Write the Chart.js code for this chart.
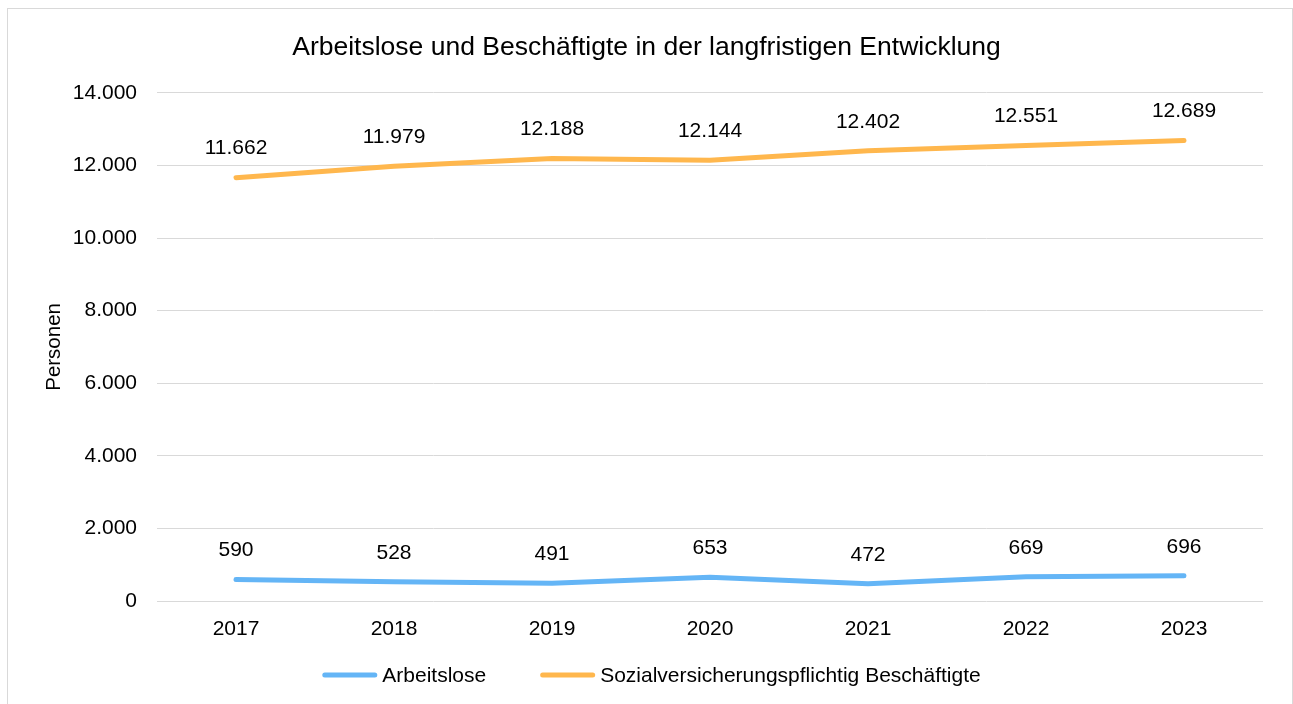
<!DOCTYPE html>
<html>
<head>
<meta charset="utf-8">
<script src="https://cdn.jsdelivr.net/npm/chart.js@4.4.0/dist/chart.umd.min.js"></script>
<style>
  body { margin: 0; background: #fff; overflow: hidden; }
  #frame { position: absolute; left: 7px; top: 8px; width: 1284px; height: 720px; border: 1px solid #d9d9d9; }
  #myChart { position: absolute; left: 0; top: 0; }
</style>
</head>
<body>
<div id="frame"></div>
<canvas id="myChart" width="1293" height="704"></canvas>
<script>
var years = ["2017", "2018", "2019", "2020", "2021", "2022", "2023"];
var arbeitslose = [590, 528, 491, 653, 472, 669, 696];
var beschaeftigte = [11662, 11979, 12188, 12144, 12402, 12551, 12689];
var yTicks = [0, 2000, 4000, 6000, 8000, 10000, 12000, 14000];

var FONT = "'Liberation Sans', Arial, sans-serif";

function fmt(v) {
  return String(v).replace(/\B(?=(\d{3})+(?!\d))/g, '.');
}

// labels above each point
var valueLabels = {
  id: 'valueLabels',
  afterDatasetsDraw: function(chart) {
    var ctx = chart.ctx;
    ctx.save();
    ctx.font = '21px ' + FONT;
    ctx.fillStyle = '#000';
    ctx.textAlign = 'center';
    ctx.textBaseline = 'middle';
    chart.data.datasets.forEach(function(ds, i) {
      var meta = chart.getDatasetMeta(i);
      meta.data.forEach(function(pt, j) {
        ctx.fillText(fmt(ds.data[j]), pt.x, pt.y - 29);
      });
    });
    ctx.restore();
  }
};

// legend drawn by hand: long line swatch, small gap to text
var lineLegend = {
  id: 'lineLegend',
  afterDraw: function(chart) {
    var ctx = chart.ctx;
    var sw = 55, gap = 5, itemGap = 54, y = 676;
    ctx.save();
    ctx.font = '21px ' + FONT;
    ctx.textBaseline = 'middle';
    ctx.textAlign = 'left';
    var items = chart.data.datasets.map(function(ds) {
      return { text: ds.label, color: ds.borderColor, w: sw + gap + ctx.measureText(ds.label).width };
    });
    var total = items.reduce(function(s, it) { return s + it.w; }, 0) + itemGap * (items.length - 1);
    var x = chart.width / 2 + 5 - total / 2;
    items.forEach(function(it) {
      ctx.strokeStyle = it.color;
      ctx.lineWidth = 5;
      ctx.lineCap = 'round';
      ctx.beginPath();
      ctx.moveTo(x + 2.5, y - 1);
      ctx.lineTo(x + sw - 2.5, y - 1);
      ctx.stroke();
      ctx.fillStyle = '#000';
      ctx.fillText(it.text, x + sw + gap, y);
      x += it.w + itemGap;
    });
    ctx.restore();
  }
};

Chart.defaults.font.family = FONT;
Chart.defaults.color = '#000';

var ctx = document.getElementById('myChart');

var myChart = new Chart(ctx, {
  type: 'line',
  data: {
    labels: years,
    datasets: [
      {
        label: 'Arbeitslose',
        data: arbeitslose,
        borderColor: '#64b5f6',
        backgroundColor: '#64b5f6',
        borderWidth: 5,
        borderCapStyle: 'round',
        pointRadius: 0,
        tension: 0
      },
      {
        label: 'Sozialversicherungspflichtig Beschäftigte',
        data: beschaeftigte,
        borderColor: '#ffb74d',
        backgroundColor: '#ffb74d',
        borderWidth: 5,
        borderCapStyle: 'round',
        pointRadius: 0,
        tension: 0
      }
    ]
  },
  options: {
    responsive: false,
    animation: false,
    devicePixelRatio: 1,
    layout: { padding: 0 },
    plugins: {
      title: {
        display: true,
        text: 'Arbeitslose und Beschäftigte in der langfristigen Entwicklung',
        font: { size: 26.5, weight: 'normal' },
        color: '#000',
        padding: { top: 32, bottom: 29 }
      },
      legend: { display: false },
      tooltip: { enabled: false }
    },
    scales: {
      x: {
        offset: true,
        grid: { display: false, drawTicks: false },
        border: { display: false },
        ticks: { padding: 16, font: { size: 21 } },
        afterFit: function(scale) { scale.height = 103; }
      },
      y: {
        min: 0,
        max: 14000,
        afterBuildTicks: function(scale) {
          scale.ticks = yTicks.map(function(v) { return { value: v }; });
        },
        grid: { color: '#d9d9d9', lineWidth: 1, drawTicks: false },
        border: { display: false },
        ticks: {
          padding: 20,
          font: { size: 21 },
          callback: function(v) { return fmt(v); }
        },
        title: {
          display: true,
          text: 'Personen',
          font: { size: 20.5 },
          color: '#000',
          padding: { top: 42, bottom: 4 }
        },
        afterFit: function(scale) { scale.width = 157; }
      },
      yr: {
        position: 'right',
        grid: { display: false },
        border: { display: false },
        ticks: { display: false },
        afterFit: function(scale) { scale.width = 30; }
      }
    }
  },
  plugins: [valueLabels, lineLegend]
});
</script>
</body>
</html>
